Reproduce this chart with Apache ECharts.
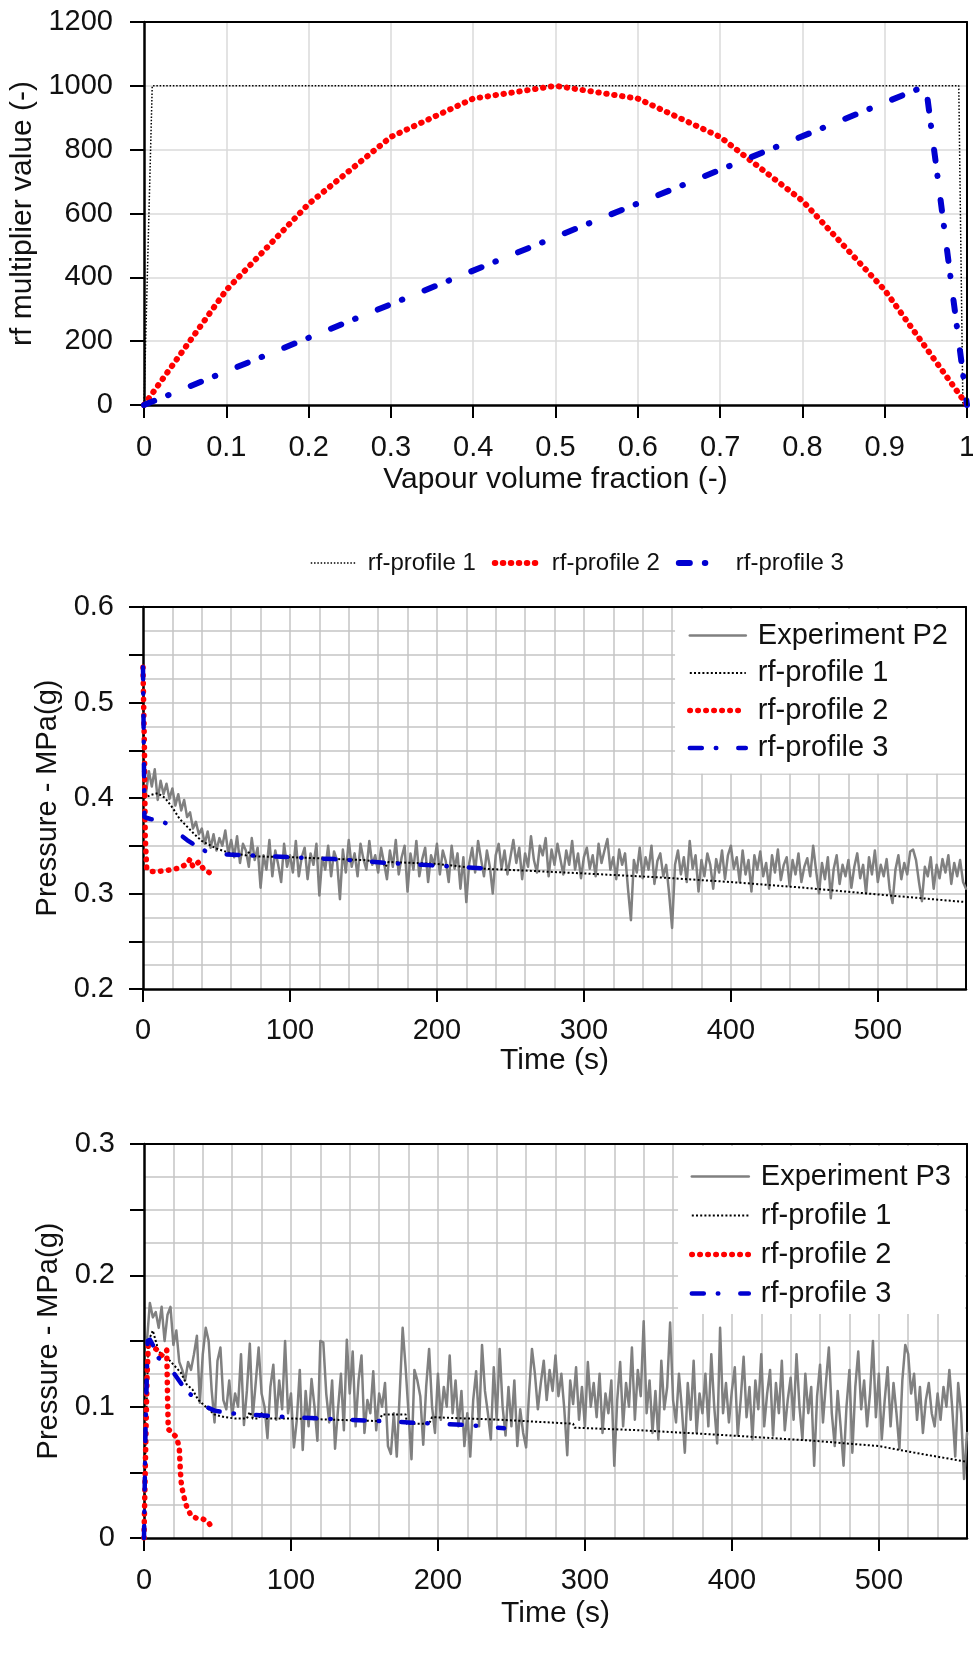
<!DOCTYPE html>
<html><head><meta charset="utf-8">
<script src="https://cdn.jsdelivr.net/npm/echarts@6/dist/echarts.min.js"></script>
<style>html,body{margin:0;padding:0;background:#fff}#c{width:973px;height:1656px}</style>
</head><body><div id="c"></div><script>
// ---------------- DATA ----------------
// Chart 1: rf multiplier profiles vs vapour volume fraction
const rfProfile1 = [[0,0],[0.01,1000],[0.99,1000],[0.995,0]];
const rfProfile2 = [[0,0],[0.1,360],[0.2,630],[0.3,840],[0.4,960],[0.5,1000],[0.6,960],[0.7,840],[0.8,640],[0.9,360],[1,0]];
const rfProfile3 = [[0,0],[0.95,1000],[1,0]];

// Tick labels
const timeTickLabels = [0,100,200,300,400,500];
const p2TickLabels = [0.2,0.3,0.4,0.5,0.6];
const p3TickLabels = [0,0.1,0.2,0.3];

// Experiments: sampled every 2 s starting at 2 s
const expTimeStart = 2, expTimeStep = 2;
const expP2 = [
0.405,0.428,0.412,0.430,0.398,0.418,0.404,0.415,0.399,0.410,
0.392,0.404,0.387,0.398,0.380,0.385,0.368,0.375,0.362,0.368,
0.352,0.365,0.348,0.362,0.345,0.358,0.350,0.366,0.342,0.356,
0.338,0.360,0.332,0.352,0.345,0.328,0.358,0.335,0.348,0.306,
0.340,0.325,0.356,0.318,0.345,0.330,0.312,0.352,0.328,0.340,
0.322,0.355,0.318,0.338,0.348,0.315,0.342,0.330,0.352,0.298,
0.338,0.325,0.350,0.318,0.344,0.335,0.294,0.346,0.322,0.356,
0.328,0.342,0.318,0.352,0.336,0.325,0.355,0.330,0.340,0.322,
0.348,0.332,0.315,0.345,0.328,0.356,0.320,0.338,0.350,0.302,
0.342,0.325,0.355,0.318,0.336,0.348,0.312,0.340,0.330,0.352,
0.320,0.345,0.334,0.312,0.350,0.326,0.342,0.305,0.338,0.291,
0.332,0.348,0.322,0.355,0.336,0.318,0.345,0.328,0.300,0.340,
0.352,0.326,0.345,0.320,0.338,0.356,0.332,0.348,0.315,0.342,
0.328,0.360,0.335,0.322,0.350,0.340,0.358,0.318,0.346,0.330,
0.352,0.336,0.320,0.345,0.330,0.355,0.325,0.342,0.316,0.338,
0.348,0.326,0.340,0.318,0.352,0.332,0.345,0.357,0.325,0.338,
0.315,0.346,0.330,0.342,0.305,0.272,0.335,0.322,0.348,0.316,
0.338,0.325,0.350,0.310,0.334,0.342,0.318,0.330,0.300,0.264,
0.330,0.345,0.320,0.338,0.312,0.355,0.326,0.340,0.302,0.335,
0.318,0.342,0.330,0.305,0.336,0.322,0.345,0.315,0.340,0.350,
0.326,0.338,0.312,0.345,0.320,0.335,0.302,0.340,0.325,0.344,
0.318,0.332,0.305,0.340,0.322,0.346,0.314,0.330,0.338,0.308,
0.335,0.320,0.342,0.312,0.328,0.337,0.318,0.350,0.324,0.300,
0.332,0.315,0.338,0.295,0.326,0.340,0.310,0.330,0.318,0.335,
0.306,0.328,0.342,0.316,0.330,0.300,0.338,0.320,0.345,0.312,
0.330,0.318,0.336,0.305,0.290,0.325,0.340,0.315,0.332,0.320,
0.344,0.346,0.335,0.312,0.292,0.328,0.318,0.338,0.305,0.330,
0.316,0.336,0.322,0.340,0.310,0.332,0.318,0.335,0.312,0.305];
const expP3 = [
0.150,0.179,0.168,0.172,0.160,0.176,0.150,0.170,0.176,0.147,
0.158,0.134,0.128,0.120,0.134,0.128,0.140,0.154,0.103,0.140,
0.160,0.150,0.113,0.088,0.135,0.145,0.105,0.098,0.120,0.093,
0.110,0.100,0.140,0.086,0.112,0.148,0.092,0.118,0.145,0.110,
0.100,0.076,0.115,0.132,0.090,0.120,0.098,0.150,0.095,0.110,
0.069,0.090,0.128,0.067,0.112,0.085,0.121,0.100,0.074,0.150,
0.149,0.110,0.088,0.120,0.068,0.098,0.125,0.082,0.151,0.110,
0.142,0.085,0.120,0.139,0.080,0.105,0.095,0.127,0.082,0.110,
0.100,0.118,0.070,0.064,0.095,0.062,0.110,0.160,0.130,0.095,
0.060,0.128,0.120,0.108,0.071,0.115,0.144,0.100,0.080,0.125,
0.090,0.115,0.100,0.139,0.095,0.120,0.085,0.112,0.070,0.095,
0.062,0.105,0.127,0.085,0.147,0.112,0.095,0.075,0.130,0.090,
0.144,0.100,0.078,0.115,0.085,0.120,0.070,0.098,0.080,0.069,
0.110,0.144,0.125,0.098,0.118,0.135,0.105,0.128,0.112,0.139,
0.108,0.125,0.098,0.063,0.120,0.102,0.130,0.090,0.115,0.085,
0.134,0.100,0.118,0.092,0.125,0.080,0.110,0.095,0.120,0.055,
0.105,0.134,0.085,0.118,0.100,0.145,0.090,0.128,0.108,0.165,
0.095,0.120,0.080,0.112,0.075,0.135,0.098,0.115,0.164,0.105,
0.088,0.125,0.098,0.065,0.118,0.090,0.135,0.080,0.110,0.095,
0.125,0.085,0.140,0.100,0.072,0.160,0.095,0.118,0.088,0.112,
0.130,0.078,0.105,0.138,0.092,0.115,0.075,0.120,0.098,0.140,
0.085,0.110,0.128,0.078,0.118,0.095,0.135,0.082,0.105,0.122,
0.090,0.140,0.100,0.075,0.125,0.095,0.115,0.055,0.108,0.132,
0.088,0.118,0.145,0.095,0.070,0.112,0.085,0.055,0.100,0.128,
0.065,0.115,0.142,0.098,0.120,0.085,0.110,0.150,0.092,0.125,
0.075,0.105,0.130,0.085,0.118,0.095,0.068,0.120,0.147,0.140,
0.110,0.125,0.090,0.115,0.080,0.105,0.118,0.095,0.085,0.110,
0.090,0.115,0.100,0.128,0.098,0.062,0.118,0.095,0.045,0.080];

// Simulations (time s, pressure MPa(g))
const simP2Profile1 = [[0,0.537],[1,0.40],[5,0.403],[10,0.405],[15,0.40],[20,0.39],[25,0.378],[30,0.37],[35,0.362],[40,0.355],[50,0.347],[60,0.342],[70,0.340],[72,0.343],[74,0.339],[100,0.338],[150,0.335],[163,0.333],[165,0.328],[167,0.333],[200,0.331],[230,0.326],[260,0.324],[300,0.321],[350,0.317],[400,0.312],[450,0.306],[500,0.299],[530,0.295],[560,0.291]];
const simP2Profile2 = [[0,0.537],[1,0.45],[1.5,0.36],[2.5,0.327],[5,0.323],[10,0.323],[15,0.324],[20,0.325],[25,0.327],[30,0.331],[32,0.336],[34,0.328],[38,0.333],[41,0.326],[45,0.322]];
const simP2Profile3 = [[0,0.537],[0.5,0.46],[1,0.38],[5,0.378],[10,0.377],[15,0.374],[20,0.369],[25,0.362],[30,0.356],[35,0.351],[40,0.346],[45,0.343],[55,0.341],[70,0.340],[100,0.338],[130,0.336],[150,0.334],[165,0.332],[190,0.330],[215,0.328],[235,0.326]];
const simP3Profile1 = [[0,0],[1,0.07],[3,0.15],[6,0.158],[8,0.15],[10,0.142],[16,0.137],[20,0.132],[25,0.126],[29,0.117],[33,0.113],[37,0.105],[42,0.1],[48,0.094],[55,0.092],[62,0.091],[70,0.091],[72,0.096],[74,0.091],[78,0.091],[80,0.095],[82,0.091],[100,0.091],[130,0.09],[160,0.089],[162,0.094],[178,0.094],[179,0.087],[194,0.087],[196,0.092],[243,0.09],[292,0.087],[293,0.084],[338,0.082],[400,0.078],[456,0.074],[500,0.07],[524,0.065],[560,0.058]];
const simP3Profile2 = [[0,0],[1,0.06],[2,0.12],[3,0.15],[6,0.146],[9,0.143],[12,0.139],[14,0.141],[15.5,0.143],[16,0.11],[16.5,0.083],[19,0.08],[22,0.077],[24,0.069],[24.8,0.05],[25.5,0.04],[27,0.032],[29,0.024],[32,0.017],[36,0.015],[40,0.0145],[43,0.013],[45,0.01]];
const simP3Profile3 = [[0,0],[1,0.08],[2.5,0.15],[4,0.151],[7,0.145],[10,0.137],[15,0.132],[20,0.126],[25,0.118],[30,0.111],[35,0.106],[40,0.101],[48,0.097],[58,0.095],[70,0.094],[85,0.093],[100,0.092],[120,0.091],[150,0.0895],[180,0.088],[200,0.087],[220,0.086],[245,0.0835]];

// ---------------- STYLE / OPTION ----------------
const FONT = "'Liberation Sans', Arial, Helvetica, sans-serif";
const INK = '#111111';
const GRID_LIGHT = '#dadada';
const GRID_DARK = '#c4c4c4';
const GREY = '#808080', RED = '#ff0000', BLUE = '#0000d0';

const expSeries = (arr) => arr.map((v, i) => [expTimeStart + i * expTimeStep, v]);
const isIn = (list, v) => list.some(t => Math.abs(t - v) < 1e-6);
const fmt1 = v => String(Math.round(v * 10) / 10);

const grids = [
  {left:144, top:22, right:6, height:383, containLabel:false, outerBoundsMode:'none'},
  {left:143, top:607, right:7, height:382, containLabel:false, outerBoundsMode:'none'},
  {left:144, top:1144, right:6, height:394, containLabel:false, outerBoundsMode:'none'}
];

const txt = (size) => ({fontSize:size, color:INK, fontFamily:FONT});
const noSplit = {show:false};

const xAxes = [
  {gridIndex:0, type:'value', position:'bottom', min:0, max:1, interval:0.1, z:2,
   name:'Vapour volume fraction (-)', nameLocation:'middle', nameGap:60, nameTextStyle:txt(30),
   axisLine:{show:true, onZero:false, lineStyle:{color:'#000', width:2.5}},
   axisTick:{show:true, length:13, lineStyle:{color:'#000', width:2}},
   axisLabel:Object.assign({margin:28, formatter: v => fmt1(v)}, txt(29)),
   splitLine:{show:true, showMinLine:false, showMaxLine:false, lineStyle:{color:GRID_LIGHT, width:1.5}}},
  {gridIndex:0, type:'value', position:'top', min:0, max:1, interval:0.1, z:3,
   axisLine:{show:true, onZero:false, lineStyle:{color:'#000', width:2}},
   axisTick:{show:false}, axisLabel:{show:false}, splitLine:noSplit},
  {gridIndex:1, type:'value', position:'bottom', min:0, max:560, interval:100, z:2,
   name:'Time (s)', nameLocation:'middle', nameGap:56, nameTextStyle:txt(30),
   axisLine:{show:true, onZero:false, lineStyle:{color:'#000', width:2.5}},
   axisTick:{show:true, length:13, customValues:timeTickLabels, lineStyle:{color:'#000', width:2}},
   axisLabel:Object.assign({margin:27, customValues:timeTickLabels, formatter: v => isIn(timeTickLabels, v) ? String(v) : ''}, txt(29)),
   splitLine:noSplit},
  {gridIndex:1, type:'value', position:'top', min:0, max:560, interval:20, z:1,
   axisLine:{show:true, onZero:false, lineStyle:{color:'#000', width:2}},
   axisTick:{show:false}, axisLabel:{show:false},
   splitLine:{show:true, showMinLine:false, showMaxLine:false, lineStyle:{color:GRID_DARK, width:1.5}}},
  {gridIndex:2, type:'value', position:'bottom', min:0, max:560, interval:100, z:2,
   name:'Time (s)', nameLocation:'middle', nameGap:61, nameTextStyle:txt(30),
   axisLine:{show:true, onZero:false, lineStyle:{color:'#000', width:2.5}},
   axisTick:{show:true, length:13, customValues:timeTickLabels, lineStyle:{color:'#000', width:2}},
   axisLabel:Object.assign({margin:28, customValues:timeTickLabels, formatter: v => isIn(timeTickLabels, v) ? String(v) : ''}, txt(29)),
   splitLine:noSplit},
  {gridIndex:2, type:'value', position:'top', min:0, max:560, interval:20, z:1,
   axisLine:{show:true, onZero:false, lineStyle:{color:'#000', width:2}},
   axisTick:{show:false}, axisLabel:{show:false},
   splitLine:{show:true, showMinLine:false, showMaxLine:false, lineStyle:{color:GRID_DARK, width:1.5}}}
];

const yAxes = [
  {gridIndex:0, type:'value', position:'left', min:0, max:1200, interval:200, z:2,
   name:'rf multiplier value (-)', nameLocation:'middle', nameGap:87, nameTextStyle:txt(30),
   axisLine:{show:true, onZero:false, lineStyle:{color:'#000', width:2.5}},
   axisTick:{show:true, length:14, lineStyle:{color:'#000', width:2}},
   axisLabel:Object.assign({margin:31, formatter: v => String(Math.round(v))}, txt(29)),
   splitLine:{show:true, showMinLine:false, showMaxLine:false, lineStyle:{color:GRID_LIGHT, width:1.5}}},
  {gridIndex:0, type:'value', position:'right', min:0, max:1200, interval:200, z:3,
   axisLine:{show:true, onZero:false, lineStyle:{color:'#000', width:2}},
   axisTick:{show:false}, axisLabel:{show:false}, splitLine:noSplit},
  {gridIndex:1, type:'value', position:'left', min:0.2, max:0.6, interval:0.05, z:2,
   name:'Pressure - MPa(g)', nameLocation:'middle', nameGap:80, nameTextStyle:txt(29),
   axisLine:{show:true, onZero:false, lineStyle:{color:'#000', width:2.5}},
   axisTick:{show:true, length:14, lineStyle:{color:'#000', width:2}},
   axisLabel:Object.assign({margin:29, formatter: v => isIn(p2TickLabels, v) ? fmt1(v) : ''}, txt(29)),
   splitLine:noSplit},
  {gridIndex:1, type:'value', position:'right', min:0.2, max:0.6, interval:0.025, z:1,
   axisLine:{show:true, onZero:false, lineStyle:{color:'#000', width:2}},
   axisTick:{show:false}, axisLabel:{show:false},
   splitLine:{show:true, showMinLine:false, showMaxLine:false, lineStyle:{color:GRID_DARK, width:1.5}}},
  {gridIndex:2, type:'value', position:'left', min:0, max:0.3, interval:0.05, z:2,
   name:'Pressure - MPa(g)', nameLocation:'middle', nameGap:74, nameTextStyle:txt(29),
   axisLine:{show:true, onZero:false, lineStyle:{color:'#000', width:2.5}},
   axisTick:{show:true, length:14, lineStyle:{color:'#000', width:2}},
   axisLabel:Object.assign({margin:29, formatter: v => isIn(p3TickLabels, v) ? fmt1(v) : ''}, txt(29)),
   splitLine:noSplit},
  {gridIndex:2, type:'value', position:'right', min:0, max:0.3, interval:0.025, z:1,
   axisLine:{show:true, onZero:false, lineStyle:{color:'#000', width:2}},
   axisTick:{show:false}, axisLabel:{show:false},
   splitLine:{show:true, showMinLine:false, showMaxLine:false, lineStyle:{color:GRID_DARK, width:1.5}}}
];

function line(name, xi, yi, data, color, width, type, cap) {
  return {
    name, type:'line', xAxisIndex:xi, yAxisIndex:yi, data, symbol:'none', showSymbol:false,
    color, itemStyle:{color}, animation:false, z:2,
    lineStyle:{color, width, type, cap: cap || 'round', join:'round'}
  };
}

const series = [
  line('rf-profile 1', 0, 0, rfProfile1, '#000', 1.5, [1.5, 1.8], 'butt'),
  line('rf-profile 2', 0, 0, rfProfile2, RED, 6, [0.5, 7.5]),
  line('rf-profile 3', 0, 0, rfProfile3, BLUE, 6, [11, 15, 0.5, 24]),
  line('Experiment P2', 2, 2, expSeries(expP2), GREY, 2.5, 'solid'),
  line('rf-profile 1 ', 2, 2, simP2Profile1, '#000', 2, [2, 2.2], 'butt'),
  line('rf-profile 2 ', 2, 2, simP2Profile2, RED, 5.5, [0.5, 7.5]),
  line('rf-profile 3 ', 2, 2, simP2Profile3, BLUE, 4.5, [12, 14, 0.5, 22]),
  line('Experiment P3', 4, 4, expSeries(expP3), GREY, 2.5, 'solid'),
  line('rf-profile 1  ', 4, 4, simP3Profile1, '#000', 2, [2, 2.2], 'butt'),
  line('rf-profile 2  ', 4, 4, simP3Profile2, RED, 5.5, [0.5, 7.5]),
  line('rf-profile 3  ', 4, 4, simP3Profile3, BLUE, 4.5, [12, 14, 0.5, 22])
];

const legendText = (size) => ({fontSize:size, color:INK, fontFamily:FONT, padding:[0,0,0,7]});
const hiddenSymbol = {opacity:0, color:'transparent', borderWidth:0};
const legends = [
  {orient:'horizontal', left:305, top:546, itemWidth:45, itemHeight:14, itemGap:16,
   data:['rf-profile 1','rf-profile 2','rf-profile 3'], textStyle:legendText(24),
   lineStyle:{width:'inherit'}, itemStyle:hiddenSymbol, selectedMode:false, formatter: n => n.trim()},
  {orient:'vertical', right:8, top:609, itemWidth:56, itemHeight:14, itemGap:8.5,
   padding:[12,17,11,12], backgroundColor:'#ffffff',
   data:['Experiment P2','rf-profile 1 ','rf-profile 2 ','rf-profile 3 '], textStyle:legendText(29),
   lineStyle:{width:'inherit'}, itemStyle:hiddenSymbol, selectedMode:false, formatter: n => n.trim()},
  {orient:'vertical', right:8, top:1146, itemWidth:57, itemHeight:14, itemGap:10,
   padding:[16,14,6,11], backgroundColor:'#ffffff',
   data:['Experiment P3','rf-profile 1  ','rf-profile 2  ','rf-profile 3  '], textStyle:legendText(29),
   lineStyle:{width:'inherit'}, itemStyle:hiddenSymbol, selectedMode:false, formatter: n => n.trim()}
];

const chart = echarts.init(document.getElementById('c'), null, {renderer:'canvas'});
chart.setOption({
  animation:false,
  backgroundColor:'#ffffff',
  textStyle:{fontFamily:FONT},
  grid:grids, xAxis:xAxes, yAxis:yAxes, legend:legends, series
});
</script></body></html>
